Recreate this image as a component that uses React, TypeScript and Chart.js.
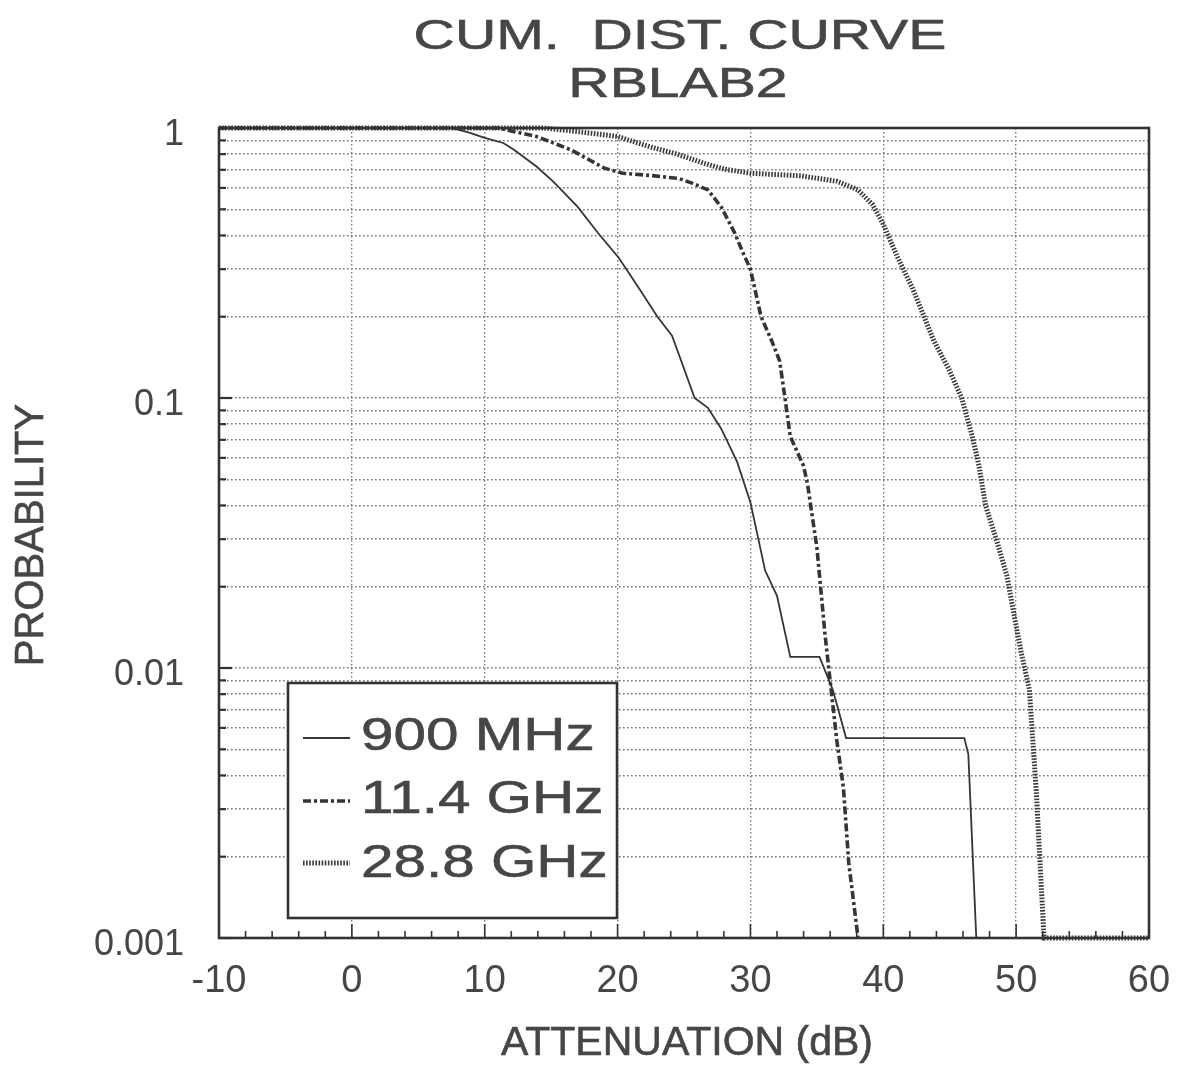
import React, { useEffect, useRef } from "react";
import { Chart, registerables } from "chart.js";

Chart.register(...registerables);

// ---- Text ----
const TITLE_LINES = ["CUM.  DIST. CURVE", "RBLAB2"];
const X_TITLE = "ATTENUATION (dB)";
const Y_TITLE = "PROBABILITY";
const SERIES_LABELS = ["900 MHz", "11.4 GHz", "28.8 GHz"];

// ---- Axes ----
const X_MIN = -10;
const X_MAX = 60;
const X_STEP = 10;
const Y_MIN = 0.001;
const Y_MAX = 1;
const yDecadeLabels = [1, 0.1, 0.01, 0.001];
const yGridValues = [
  0.001, 0.002, 0.003, 0.004, 0.005, 0.006, 0.007, 0.008, 0.009,
  0.01, 0.02, 0.03, 0.04, 0.05, 0.06, 0.07, 0.08, 0.09,
  0.1, 0.2, 0.3, 0.4, 0.5, 0.6, 0.7, 0.8, 0.9,
  1,
];

// ---- Series: attenuation (dB) vs cumulative probability ----
const atten900 = [-10, 7.5, 8.9, 10, 11.4, 12.2, 13.9, 15.2, 17.0, 18.5, 20.1, 21.5, 23.0, 24.1, 25.8, 26.8, 27.8, 29.0, 30.0, 30.6, 31.1, 32.0, 33.0, 35.2, 36.2, 37.2, 46.1, 46.4, 47.0];
const prob900 = [1, 1, 0.96, 0.92, 0.88, 0.83, 0.72, 0.63, 0.51, 0.41, 0.33, 0.26, 0.2, 0.17, 0.1, 0.092, 0.077, 0.058, 0.041, 0.03, 0.023, 0.0185, 0.011, 0.011, 0.0083, 0.0055, 0.0055, 0.0048, 0.001];

const atten114 = [-10, 11.0, 13.9, 16.5, 19.0, 20.4, 22.8, 24.6, 25.6, 26.8, 27.8, 28.8, 29.5, 30.0, 30.8, 31.6, 32.2, 32.6, 33.0, 34.0, 34.3, 34.6, 35.0, 35.3, 35.6, 36.1, 36.5, 37.0, 37.4, 38.1];
const prob114 = [1, 1, 0.93, 0.83, 0.71, 0.68, 0.665, 0.65, 0.625, 0.59, 0.51, 0.41, 0.34, 0.3, 0.2, 0.163, 0.137, 0.1, 0.072, 0.056, 0.048, 0.038, 0.028, 0.0195, 0.0135, 0.0081, 0.0054, 0.0036, 0.0019, 0.001];

const atten288 = [-10, 14.5, 17.0, 20.0, 22.5, 24.5, 26.5, 28.0, 30.0, 33.8, 36.5, 38.1, 39.2, 40.0, 41.1, 42.2, 43.0, 43.8, 44.9, 45.9, 46.7, 47.2, 47.7, 48.5, 49.3, 49.9, 50.4, 51.0, 51.2, 51.5, 51.8, 52.1, 60];
const prob288 = [1, 1, 0.97, 0.93, 0.85, 0.8, 0.74, 0.705, 0.68, 0.665, 0.635, 0.59, 0.52, 0.44, 0.33, 0.255, 0.204, 0.163, 0.129, 0.1, 0.072, 0.056, 0.04, 0.03, 0.022, 0.0152, 0.0113, 0.0083, 0.0059, 0.0036, 0.0019, 0.001, 0.001];

const FONT = "'Liberation Sans', Arial, Helvetica, sans-serif";
const INK = "#464646";
const LINE_INK = "#353535";

const toPoints = (xs: number[], ys: number[]) => xs.map((x, i) => ({ x, y: ys[i] }));

function stretchedText(
  ctx: CanvasRenderingContext2D,
  text: string,
  x: number,
  y: number,
  size: number,
  sx: number,
  align: CanvasTextAlign
) {
  ctx.save();
  ctx.font = `${size}px ${FONT}`;
  ctx.textAlign = align;
  ctx.textBaseline = "alphabetic";
  ctx.fillStyle = INK;
  ctx.strokeStyle = INK;
  ctx.lineWidth = 0.6;
  ctx.translate(x, y);
  ctx.scale(sx, 1);
  ctx.fillText(text, 0, 0);
  ctx.strokeText(text, 0, 0);
  ctx.restore();
}

const decorations = {
  id: "decorations",
  beforeDraw(chart: any) {
    const { ctx, width, height } = chart;
    ctx.save();
    ctx.fillStyle = "#ffffff";
    ctx.fillRect(0, 0, width, height);
    ctx.restore();
  },
  afterDatasetsDraw(chart: any) {
    const { ctx, chartArea: a, scales } = chart;
    const xs = scales.x;
    const ys = scales.y;

    // inner tick marks on the left axis
    ctx.save();
    ctx.strokeStyle = "#333";
    ctx.lineWidth = 2.2;
    yGridValues.forEach((v) => {
      const py = ys.getPixelForValue(v);
      const len = yDecadeLabels.includes(v) ? 13 : 7;
      ctx.beginPath();
      ctx.moveTo(a.left, py);
      ctx.lineTo(a.left + len, py);
      ctx.stroke();
    });
    // inner tick marks on the bottom axis, every 2 dB
    ctx.lineWidth = 1.6;
    for (let v = X_MIN + 2; v < X_MAX; v += 2) {
      const px = xs.getPixelForValue(v);
      const len = v % 10 === 0 ? 14 : 7;
      ctx.beginPath();
      ctx.moveTo(px, a.bottom);
      ctx.lineTo(px, a.bottom - len);
      ctx.stroke();
    }
    // plot frame
    ctx.lineWidth = 2.6;
    ctx.strokeStyle = "#333";
    ctx.strokeRect(a.left, a.top, a.right - a.left, a.bottom - a.top);
    ctx.restore();

    // legend box
    const box = { l: 288, t: 683, r: 617, b: 918 };
    ctx.save();
    ctx.fillStyle = "#ffffff";
    ctx.fillRect(box.l, box.t, box.r - box.l, box.b - box.t);
    ctx.strokeStyle = "#333";
    ctx.lineWidth = 2.6;
    ctx.strokeRect(box.l, box.t, box.r - box.l, box.b - box.t);
    const rows = [
      { sampleY: 738, baseline: 750 },
      { sampleY: 801, baseline: 813 },
      { sampleY: 863, baseline: 877 },
    ];
    chart.data.datasets.forEach((ds: any, i: number) => {
      const r = rows[i];
      ctx.save();
      ctx.strokeStyle = ds.borderColor;
      ctx.lineWidth = ds.borderWidth;
      ctx.setLineDash(ds.borderDash || []);
      ctx.beginPath();
      ctx.moveTo(303, r.sampleY);
      ctx.lineTo(350, r.sampleY);
      ctx.stroke();
      ctx.restore();
      stretchedText(ctx, ds.label, 361, r.baseline, 46, 1.27, "left");
    });
    ctx.restore();
  },
  afterDraw(chart: any) {
    const { ctx } = chart;
    stretchedText(ctx, TITLE_LINES[0], 680, 49, 43, 1.33, "center");
    stretchedText(ctx, TITLE_LINES[1], 678, 97, 43, 1.33, "center");
    stretchedText(ctx, X_TITLE, 687, 1055, 41, 1.0, "center");
    ctx.save();
    ctx.font = `40px ${FONT}`;
    ctx.fillStyle = INK;
    ctx.strokeStyle = INK;
    ctx.lineWidth = 0.6;
    ctx.textAlign = "center";
    ctx.textBaseline = "alphabetic";
    ctx.translate(43, 535);
    ctx.rotate(-Math.PI / 2);
    ctx.fillText(Y_TITLE, 0, 0);
    ctx.strokeText(Y_TITLE, 0, 0);
    ctx.restore();
  },
};

export default function App() {
  const canvasRef = useRef<HTMLCanvasElement>(null);

  useEffect(() => {
    document.body.style.margin = "0";
    const canvas = canvasRef.current;
    if (!canvas) return;

    const chart = new Chart(canvas, {
      type: "line",
      data: {
        datasets: [
          {
            label: SERIES_LABELS[0],
            data: toPoints(atten900, prob900),
            borderColor: LINE_INK,
            borderWidth: 1.8,
            borderDash: [],
            pointRadius: 0,
            tension: 0,
            clip: false,
          },
          {
            label: SERIES_LABELS[1],
            data: toPoints(atten114, prob114),
            borderColor: LINE_INK,
            borderWidth: 3.6,
            borderDash: [8, 3, 3, 3],
            pointRadius: 0,
            tension: 0,
            clip: false,
          },
          {
            label: SERIES_LABELS[2],
            data: toPoints(atten288, prob288),
            borderColor: "#3a3a3a",
            borderWidth: 5,
            borderDash: [1.6, 1.5],
            pointRadius: 0,
            tension: 0,
            clip: false,
          },
        ] as any,
      },
      options: {
        animation: false,
        responsive: false,
        devicePixelRatio: 1,
        layout: { padding: { top: 128, right: 31, left: 0, bottom: 0 } },
        plugins: {
          legend: { display: false },
          tooltip: { enabled: false },
          title: { display: false },
        },
        scales: {
          x: {
            type: "linear",
            min: X_MIN,
            max: X_MAX,
            ticks: {
              stepSize: X_STEP,
              color: INK,
              font: { family: FONT, size: 38 },
              padding: 21,
              maxRotation: 0,
              autoSkip: false,
            },
            grid: { color: "#777777", lineWidth: 1.4, drawTicks: false },
            border: { display: false, dash: [1.6, 2.4] },
            afterFit(scale: any) {
              scale.height = 138;
              scale.paddingLeft = 0;
              scale.paddingRight = 0;
            },
          },
          y: {
            type: "logarithmic",
            min: Y_MIN,
            max: Y_MAX,
            afterBuildTicks(scale: any) {
              scale.ticks = yGridValues.map((v) => ({ value: v, major: yDecadeLabels.includes(v) }));
            },
            ticks: {
              autoSkip: false,
              color: INK,
              font: { family: FONT, size: 36 },
              padding: 35,
              labelOffset: 7,
              callback: (v: any) => (yDecadeLabels.includes(Number(v)) ? String(v) : ""),
            },
            grid: { color: "#777777", lineWidth: 1.4, drawTicks: false },
            border: { display: false, dash: [1.6, 2.4] },
            afterFit(scale: any) {
              scale.width = 219;
              scale.paddingTop = 0;
              scale.paddingBottom = 0;
            },
          },
        },
      } as any,
      plugins: [decorations],
    });

    return () => chart.destroy();
  }, []);

  return (
    <div style={{ width: 1180, height: 1076 }}>
      <canvas ref={canvasRef} width={1180} height={1076} style={{ display: "block" }} />
    </div>
  );
}
